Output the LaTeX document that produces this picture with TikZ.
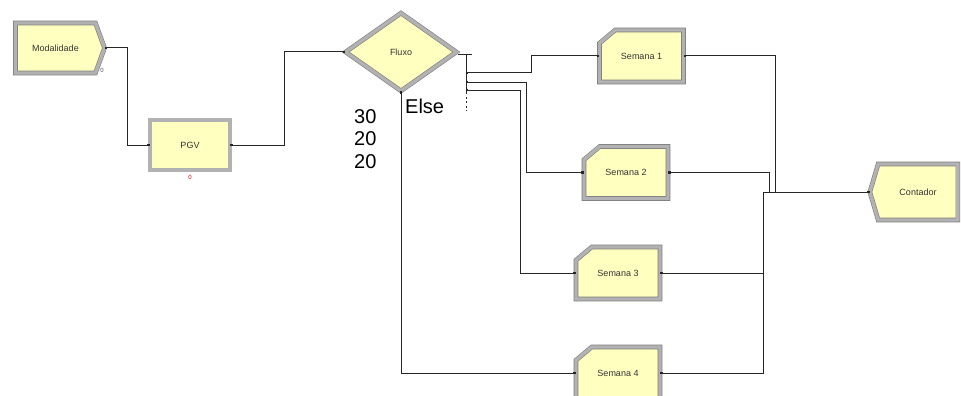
\documentclass[tikz,border=0pt]{standalone}
\usepackage{fontspec}
\setmainfont{Liberation Sans}
\usepackage{xcolor}
\usepackage{tikz}
\usetikzlibrary{shapes.geometric,shapes.symbols,shapes.misc,arrows.meta,positioning}
\definecolor{modfill}{RGB}{255,255,192}
\definecolor{modedge}{RGB}{125,125,125}
\definecolor{modbevel}{RGB}{178,178,178}
\tikzstyle{module}=[
draw=modedge,
double=modbevel,
line width=0.6pt,
double distance=3.4pt,
fill=modfill,
text=black!80,
font=\fontsize{9}{10}\selectfont,
inner sep=0pt
]
\tikzstyle{block}=[
module,
rectangle,
minimum width=80pt,
minimum height=50pt
]
\tikzstyle{create}=[
module,
signal,
signal to=east,
signal pointer angle=140,
minimum width=89pt,
minimum height=50pt
]
\tikzstyle{assign}=[
module,
chamfered rectangle,
chamfered rectangle corners=north west,
chamfered rectangle sep=10pt,
chamfered rectangle angle=50,
minimum width=84pt,
minimum height=52pt
]
\tikzstyle{decide}=[
module,
diamond,
minimum width=111pt,
minimum height=78pt
]
\tikzstyle{dispose}=[
module,
signal,
signal to=west,
signal pointer angle=147,
minimum width=88pt,
minimum height=56pt
]
\tikzstyle{conn}=[
draw=black!85,
line width=1pt,
<->,
>={Square[length=2.4pt,width=2.4pt]}
]
\tikzstyle{counter}=[
inner sep=0pt,
font=\fontsize{6}{7}\selectfont
]
\tikzstyle{big}=[
inner sep=0pt,
font=\fontsize{20}{22.5}\selectfont
]

\begin{document}
\begin{tikzpicture}[x=1pt,y=-1pt]
\useasboundingbox (0,0) rectangle (961,396);

\node (mod) [create] at (55.5,48) {Modalidade};
\node (pgv) [block] at (190,145) {PGV};
\node (fluxo) [decide] at (401,52) {Fluxo};
\node (sem1) [assign] at (641.5,56) {Semana 1};
\node (sem2) [assign] at (626,172.5) {Semana 2};
\node (sem3) [assign] at (618,273) {Semana 3};
\node (sem4) [assign] at (618,373) {Semana 4};
\node (cont) [dispose] at (918,192) {Contador};

\node (modzero) [counter, text=black!70] at (102,70) {0};
\node (pgvzero) [counter, text=red!80!black, below=5pt of pgv] {0};

\node (pct) [big, anchor=north west, align=left] at (354,109) {30\\20\\20};
\node (else) [big, anchor=base west] at (405,113) {Else};

\coordinate (ftick1) at (458,55);
\coordinate (ftick2) at (472,55);
\coordinate (fcol) at (466,55);
\coordinate (fend) at (466,92);
\coordinate (fdot) at (466,111);
\coordinate (out1) at (466,73);
\coordinate (out2) at (466,82);
\coordinate (out3) at (466,90);

\draw [draw=black!85, line width=1pt] (ftick1) -- (ftick2);
\draw [draw=black!85, line width=1pt] (fcol) -- (fend);
\draw [draw=black!85, line width=1pt, dash pattern=on 2pt off 2.5pt] (fend) -- (fdot);

\draw [conn] (mod.east) -- ++(23,0) |- (pgv.west);
\draw [conn] (pgv.east) -- ++(54,0) |- (fluxo.west);
\draw [conn] (out1) -- ++(65,0) |- (sem1.west);
\draw [conn] (out2) -- ++(60,0) |- (sem2.west);
\draw [conn] (out3) -- ++(54,0) |- (sem3.west);
\draw [conn] (fluxo.south) |- (sem4.west);
\draw [conn] (sem1.east) -- ++(92,0) |- (cont.west);
\draw [conn] (sem2.east) -- ++(101,0) |- (cont.west);
\draw [conn] (sem3.east) -- ++(103,0) |- (cont.west);
\draw [conn] (sem4.east) -- ++(103,0) |- (cont.west);

\end{tikzpicture}
\end{document}
